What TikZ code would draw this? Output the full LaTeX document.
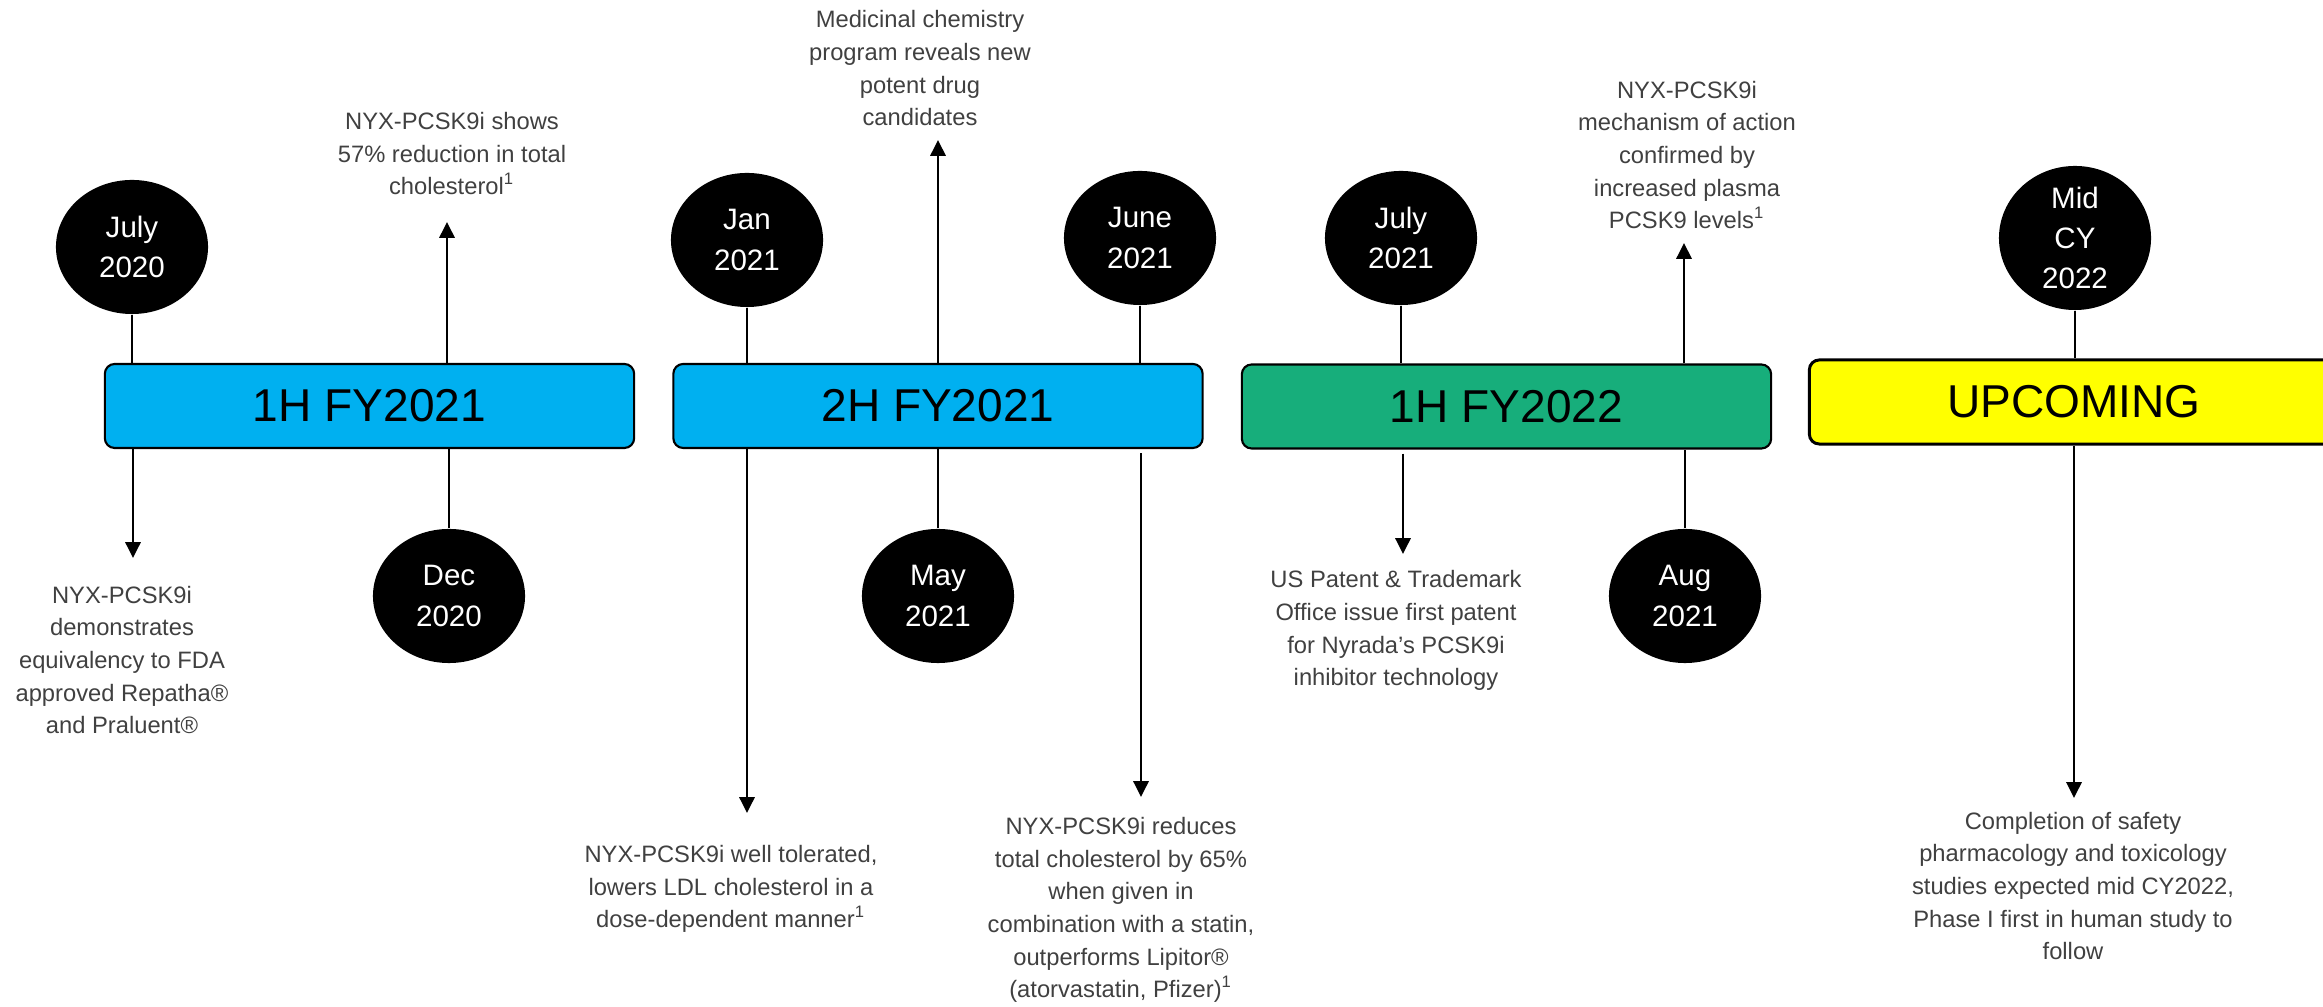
\documentclass[tikz,border=0pt]{standalone}
\usepackage{fontspec}
\setmainfont{Liberation Sans}
\usepackage{tikz}
\usetikzlibrary{
  positioning,
  arrows.meta,
  shapes.geometric
}
\definecolor{barblue}{HTML}{00B0F0}
\definecolor{bargreen}{HTML}{17AE7B}
\definecolor{baryellow}{HTML}{FFFF00}
\definecolor{notegray}{HTML}{404040}
\tikzstyle{period}=[draw=black, line width=0.6pt, rounded corners=2.8pt, minimum width=5.29cm, minimum height=0.84cm, inner sep=0pt, font=\fontsize{13.1}{15}\selectfont]
\tikzstyle{bubble}=[ellipse, fill=black, text=white, minimum width=1.52cm, minimum height=1.34cm, inner sep=0pt, align=center, font=\fontsize{8.4}{11.4}\selectfont]
\tikzstyle{note}=[text=notegray, align=center, inner sep=0pt, anchor=base, font=\fontsize{6.75}{9.3}\selectfont]
\tikzstyle{stem}=[line width=0.35pt]
\tikzstyle{event}=[-{Triangle[length=4.5pt, width=4.3pt]}, line width=0.75pt]

\begin{document}
\begin{tikzpicture}[x=0.01cm, y=-0.01cm]
    \useasboundingbox (0,0) rectangle (2323,1007);

    % 期間のバー
    \node[period, fill=barblue] (h1a) at (369.5,406) {1H FY2021};
    \node[period, fill=barblue] (h2a) at (938,406) {2H FY2021};
    \node[period, fill=bargreen] (h1b) at (1506.5,406.5) {1H FY2022};
    \node[period, fill=baryellow, line width=0.85pt] (up) at (2074,402) {UPCOMING};

    % 日付
    \node[bubble] (jul20) at (132,247) {July\\2020};
    \node[bubble] (dec20) at (449,596) {Dec\\2020};
    \node[bubble] (jan21) at (747,240) {Jan\\2021};
    \node[bubble] (may21) at (938,596) {May\\2021};
    \node[bubble] (jun21) at (1140,238) {June\\2021};
    \node[bubble] (jul21) at (1401,238) {July\\2021};
    \node[bubble] (aug21) at (1685,596) {Aug\\2021};
    \node[bubble] (mid22) at (2075,238) {Mid\\CY\\2022};

    % 日付からバーへの線
    \draw[stem] (jul20.south) -- (jul20.south |- h1a.north);
    \draw[stem] (dec20.north) -- (dec20.north |- h1a.south);
    \draw[stem] (jan21.south) -- (jan21.south |- h2a.north);
    \draw[stem] (may21.north) -- (may21.north |- h2a.south);
    \draw[stem] (jun21.south) -- (jun21.south |- h2a.north);
    \draw[stem] (jul21.south) -- (jul21.south |- h1b.north);
    \draw[stem] (aug21.north) -- (aug21.north |- h1b.south);
    \draw[stem, line width=0.6pt] (mid22.south) -- (mid22.south |- up.north);

    % 上向きの矢印と説明
    \coordinate (u1) at (447,222);
    \coordinate (u2) at (938,140);
    \coordinate (u3) at (1684,243);
    \draw[event] (u1 |- h1a.north) -- (u1);
    \draw[event] (u2 |- h2a.north) -- (u2);
    \draw[event] (u3 |- h1b.north) -- (u3);
    \node[note] (n1) at (452,195) {NYX-PCSK9i shows\\57\% reduction in total\\cholesterol\textsuperscript{1}};
    \node[note] (n2) at (920,126) {Medicinal chemistry\\program reveals new\\potent drug\\candidates};
    \node[note] (n3) at (1687,229) {NYX-PCSK9i\\mechanism of action\\confirmed by\\increased plasma\\PCSK9 levels\textsuperscript{1}};

    % 下向きの矢印と説明
    \coordinate (d1) at (133,558);
    \coordinate (d2) at (747,813);
    \coordinate (d3) at (1141,797);
    \coordinate (d4) at (1403,554);
    \coordinate (d5) at (2074,798);
    \draw[event] (d1 |- h1a.south) -- (d1);
    \draw[event] (d2 |- h2a.south) -- (d2);
    \draw[event] (d3 |- h2a.south) ++(0,4) -- (d3);
    \draw[event] (d4 |- h1b.south) ++(0,4) -- (d4);
    \draw[event] (d5 |- up.south) -- (d5);
    \node[note] (n4) at (122,734) {NYX-PCSK9i\\demonstrates\\equivalency to FDA\\approved Repatha®\\and Praluent®};
    \node[note] (n5) at (731,928) {NYX-PCSK9i well tolerated,\\lowers LDL cholesterol in a\\dose-dependent manner\textsuperscript{1}};
    \node[note] (n6) at (1121,998) {NYX-PCSK9i reduces\\total cholesterol by 65\%\\when given in\\combination with a statin,\\outperforms Lipitor®\\(atorvastatin, Pfizer)\textsuperscript{1}};
    \node[note] (n7) at (1396,686) {US Patent \& Trademark\\Office issue first patent\\for Nyrada’s PCSK9i\\inhibitor technology};
    \node[note] (n8) at (2073,960) {Completion of safety\\pharmacology and toxicology\\studies expected mid CY2022,\\Phase I first in human study to\\follow};
  \end{tikzpicture}
\end{document}
